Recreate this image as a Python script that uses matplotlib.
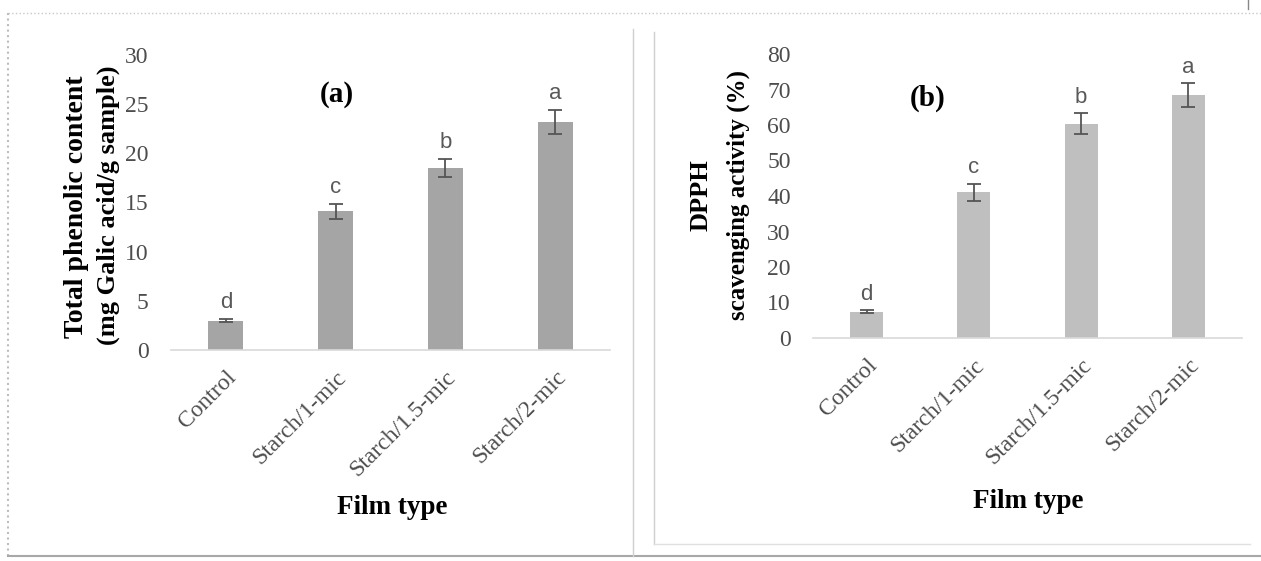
import numpy as np
import matplotlib.pyplot as plt
from matplotlib.lines import Line2D

plt.rcParams['font.family'] = ['Liberation Serif', 'DejaVu Serif']

films = ['Control', 'Starch/1-mic', 'Starch/1.5-mic', 'Starch/2-mic']
phenolic = [3.0, 14.1, 18.5, 23.2]
phenolic_err = [0.2, 0.75, 0.95, 1.2]
dpph = [7.4, 41.1, 60.4, 68.4]
dpph_err = [0.4, 2.4, 2.9, 3.3]
letters = ['d', 'c', 'b', 'a']

fig = plt.figure(figsize=(12.61, 5.61), dpi=100)
W, H = 1261.0, 561.0


def ax_rect(x0, x1, y0, y1):
    # pixel box -> figure fraction
    return [x0 / W, 1 - y0 / H, (x1 - x0) / W, (y0 - y1) / H]


def panel(ax, vals, errs, color, ymax, step, bw, letter_off):
    x = np.arange(len(vals))
    ax.bar(x, vals, bw, color=color, zorder=2)
    ax.errorbar(x, vals, yerr=errs, fmt='none', ecolor='#555555',
                elinewidth=1.3, capsize=5, capthick=1.3, zorder=3)
    for i in range(len(vals)):
        ax.text(x[i], vals[i] + errs[i] + letter_off, letters[i], ha='center',
                va='bottom', fontsize=16, color='#595959', family='Liberation Sans')
    ax.set_xlim(-0.5, len(vals) - 0.5)
    ax.set_ylim(0, ymax)
    ax.set_yticks(np.arange(0, ymax + 1, step))
    ax.set_xticks(x)
    ax.set_xticklabels(films, rotation=45, ha='right', rotation_mode='anchor',
                       fontsize=17, color='#4d4d4d')
    for lab in ax.get_yticklabels():
        lab.set_fontsize(17)
        lab.set_color('#4d4d4d')
    ax.tick_params(axis='both', length=0)
    ax.tick_params(axis='y', pad=16)
    ax.tick_params(axis='x', pad=12)
    for s in ['top', 'right', 'left']:
        ax.spines[s].set_visible(False)
    ax.spines['bottom'].set_color('#d9d9d9')
    ax.spines['bottom'].set_linewidth(1.2)


ax1 = fig.add_axes(ax_rect(171, 610, 350, 55))
panel(ax1, phenolic, phenolic_err, '#a5a5a5', 30, 5, 0.32, 0.6)
ax2 = fig.add_axes(ax_rect(813, 1242, 338, 54))
panel(ax2, dpph, dpph_err, '#bfbfbf', 80, 10, 0.31, 1.5)

# titles and axis labels
fig.text(337 / W, 1 - 94 / H, '(a)', ha='center', va='center', fontsize=21, fontweight='bold')
fig.text(928 / W, 1 - 98 / H, '(b)', ha='center', va='center', fontsize=21, fontweight='bold')
fig.text(77 / W, 1 - 207 / H, 'Total phenolic content', rotation=90, ha='center',
         va='center', fontsize=20, fontweight='bold')
fig.text(108 / W, 1 - 205 / H, '(mg Galic acid/g sample)', rotation=90, ha='center',
         va='center', fontsize=19, fontweight='bold')
fig.text(701 / W, 1 - 195 / H, 'DPPH', rotation=90, ha='center', va='center',
         fontsize=19, fontweight='bold')
fig.text(738 / W, 1 - 195 / H, 'scavenging activity (%)', rotation=90, ha='center',
         va='center', fontsize=18, fontweight='bold')
fig.text(392 / W, 1 - 508 / H, 'Film type', ha='center', va='center', fontsize=19.5, fontweight='bold')
fig.text(1028 / W, 1 - 501 / H, 'Film type', ha='center', va='center', fontsize=19.5, fontweight='bold')

# frame lines around the panels
def fline(xs, ys, **kw):
    fig.add_artist(Line2D([v / W for v in xs], [1 - v / H for v in ys], **kw))

fline([8, 1261], [13, 13], color='#c8c8c8', lw=1, ls=':')
fline([8, 8], [13, 556], color='#bdbdbd', lw=1.5, ls=':')
fline([8, 1261], [556, 556], color='#a8a8a8', lw=1.5)
fline([633, 633], [29, 556], color='#d0d0d0', lw=1)
fline([654, 654], [32, 544], color='#d0d0d0', lw=1)
fline([654, 1250], [544, 544], color='#e0e0e0', lw=1)
fline([1248, 1248], [0, 9], color='#888888', lw=1)

fig.savefig('out.png', dpi=100)
